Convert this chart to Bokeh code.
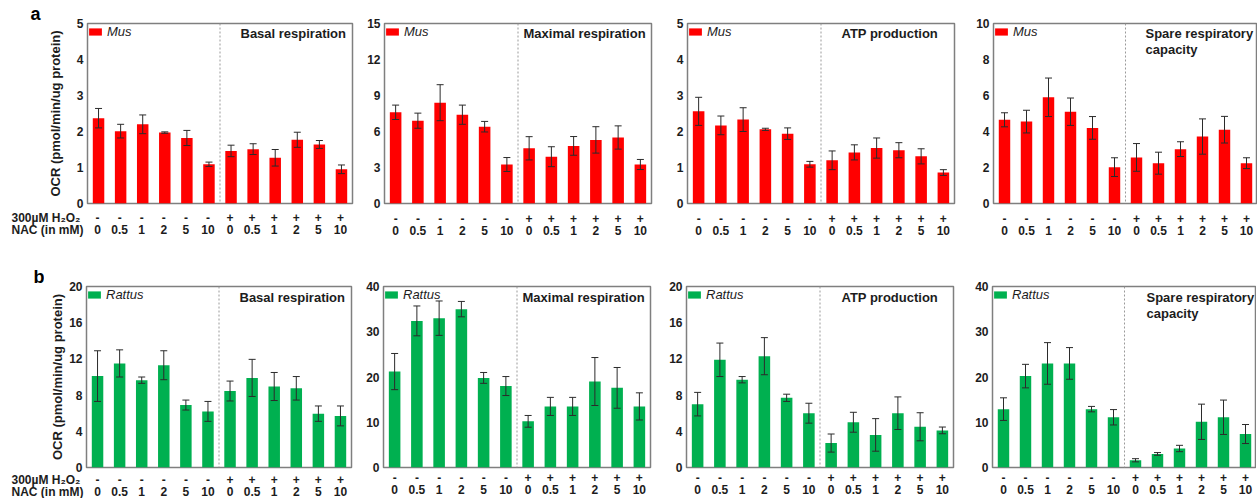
from bokeh.plotting import figure
from bokeh.models import (ColumnDataSource, Range1d, FixedTicker, LinearAxis, Span, Label,
                          Whisker, TeeHead)
from bokeh.layouts import row, column
from bokeh.core.properties import value
from bokeh.embed import file_html
from bokeh.resources import INLINE

# ---------------- data ----------------
nac_labels = ["0", "0.5", "1", "2", "5", "10", "0", "0.5", "1", "2", "5", "10"]
h2o2_labels = ["-", "-", "-", "-", "-", "-", "+", "+", "+", "+", "+", "+"]
row_titles = ["300µM H₂O₂", "NAC (in mM)"]
panel_letters = ["a", "b"]

mus_basal = [2.37, 2.01, 2.20, 1.97, 1.82, 1.09, 1.46, 1.51, 1.27, 1.77, 1.64, 0.95]
mus_basal_err = [0.27, 0.19, 0.26, 0.02, 0.21, 0.06, 0.16, 0.15, 0.23, 0.21, 0.11, 0.12]
mus_max = [7.6, 6.9, 8.4, 7.4, 6.4, 3.25, 4.6, 3.9, 4.8, 5.3, 5.5, 3.25]
mus_max_err = [0.6, 0.63, 1.5, 0.8, 0.44, 0.58, 0.97, 0.83, 0.78, 1.1, 0.97, 0.42]
mus_atp = [2.56, 2.17, 2.33, 2.06, 1.94, 1.09, 1.2, 1.42, 1.54, 1.48, 1.31, 0.86]
mus_atp_err = [0.39, 0.26, 0.33, 0.03, 0.16, 0.08, 0.26, 0.21, 0.28, 0.21, 0.21, 0.08]
mus_spare = [4.65, 4.55, 5.9, 5.1, 4.2, 2.02, 2.56, 2.24, 3.02, 3.72, 4.1, 2.24]
mus_spare_err = [0.39, 0.63, 1.07, 0.76, 0.63, 0.52, 0.77, 0.61, 0.41, 0.98, 0.74, 0.3]

rat_basal = [10.1, 11.5, 9.65, 11.3, 6.9, 6.2, 8.45, 9.9, 8.95, 8.75, 5.95, 5.7]
rat_basal_err = [2.8, 1.5, 0.35, 1.6, 0.55, 1.1, 1.1, 2.05, 1.55, 1.3, 0.85, 1.1]
rat_max = [21.2, 32.4, 33.0, 35.0, 19.8, 18.0, 10.2, 13.5, 13.5, 19.0, 17.6, 13.5]
rat_max_err = [4.0, 3.3, 3.8, 1.7, 1.2, 2.1, 1.3, 2.0, 2.0, 5.3, 4.5, 3.0]
rat_atp = [7.0, 11.9, 9.7, 12.3, 7.7, 6.0, 2.7, 5.0, 3.6, 6.0, 4.5, 4.1]
rat_atp_err = [1.3, 1.85, 0.35, 2.05, 0.4, 1.1, 1.0, 1.1, 1.8, 1.8, 1.55, 0.37]
rat_spare = [12.9, 20.2, 23.0, 23.0, 12.9, 11.1, 1.6, 3.0, 4.2, 10.1, 11.1, 7.4]
rat_spare_err = [2.5, 2.6, 4.6, 3.5, 0.6, 1.7, 0.35, 0.3, 0.7, 3.9, 3.8, 2.1]

titles = [["Basal respiration"], ["Maximal respiration"], ["ATP production"],
          ["Spare respiratory", "capacity"]]
mus_ymax = [5, 15, 5, 10]
mus_ystep = [1, 3, 1, 2]
rat_ymax = [20, 40, 20, 40]
rat_ystep = [4, 10, 4, 10]
y_title = "OCR (pmol/min/ug protein)"

# ---------------- style / layout ----------------
FONT = "Liberation Sans"
TXT = "#1c1c1c"
RED = "#FF0000"
GREEN = "#00B050"
GUTTER = 44                       # width of the left strip holding a / b
FRAME_W = [265, 267, 267, 264]
LEFT = [86 - GUTTER, 28, 32, 35]
RIGHT = [4, 4, 4, 0]
FH = [180, 181]
TOP = [23, 36]
BOTTOM = [47, 31]
BOTTOM_P1 = [7, 7]                # panel 1: its x labels live in a strip below it
TITLE_X = [[153, 139, 154, 152], [153, 139, 155, 154]]
XSTAND = [10, 5]
STRIP_Y = [(7, 19), (5, 17)]      # centre of the two label rows in the strip
LETTER_X = [30, 33]
YLABEL_STANDOFF = [11, 1]


def style_axis(ax):
    ax.axis_line_color = None
    ax.major_tick_line_color = None
    ax.minor_tick_line_color = None
    ax.major_tick_out = 0
    ax.major_tick_in = 0
    ax.major_label_text_font = FONT
    ax.major_label_text_font_size = "12px"
    ax.major_label_text_font_style = "bold"
    ax.major_label_text_color = TXT


def make_panel(vals, errs, color, species, col, r, ymax, ystep):
    first = col == 0
    p = figure(frame_width=FRAME_W[col], frame_height=FH[r],
               x_range=Range1d(-0.5, 11.5), y_range=Range1d(0, ymax),
               x_axis_type=None, y_axis_type=None,
               output_backend="svg", toolbar_location=None,
               min_border_left=LEFT[col], min_border_right=RIGHT[col],
               min_border_top=TOP[r],
               min_border_bottom=BOTTOM_P1[r] if first else BOTTOM[r])
    p.outline_line_color = "#7f7f7f"
    p.outline_line_width = 1.5
    p.background_fill_color = "white"
    p.border_fill_color = "white"

    src = ColumnDataSource(dict(
        x=list(range(len(vals))), top=vals,
        upper=[v + e for v, e in zip(vals, errs)],
        lower=[v - e for v, e in zip(vals, errs)],
    ))
    p.vbar(x="x", top="top", width=0.52, source=src, fill_color=color,
           line_color=None, legend_label=species)

    p.add_layout(Whisker(source=src, base="x", upper="upper", lower="lower",
                         line_color="#2b2b2b", line_width=1,
                         upper_head=TeeHead(size=7, line_color="#2b2b2b", line_width=1),
                         lower_head=TeeHead(size=7, line_color="#2b2b2b", line_width=1),
                         level="overlay"))

    p.add_layout(Span(location=5.5, dimension="height", line_color="#9a9a9a",
                      line_dash="2 2", line_width=1))

    ya = LinearAxis(ticker=FixedTicker(ticks=list(range(0, ymax + 1, ystep))))
    style_axis(ya)
    ya.major_label_standoff = 4
    if first:
        ya.axis_label = y_title
        ya.axis_label_text_font = FONT
        ya.axis_label_text_font_size = "13px"
        ya.axis_label_text_font_style = "bold"
        ya.axis_label_text_color = TXT
        ya.axis_label_standoff = YLABEL_STANDOFF[r]
    p.add_layout(ya, "left")

    if not first:
        for labels, stand in ((h2o2_labels, XSTAND[r]), (nac_labels, 0)):
            xa = LinearAxis(ticker=FixedTicker(ticks=list(range(len(labels)))),
                            major_label_overrides={i: s for i, s in enumerate(labels)})
            style_axis(xa)
            xa.major_label_standoff = stand
            p.add_layout(xa, "below")

    lg = p.legend[0]
    lg.location = "top_left"
    lg.margin = 0
    lg.padding = 3
    lg.glyph_width = 16
    lg.glyph_height = 9
    lg.label_standoff = 4
    lg.label_height = 16
    lg.label_text_font = FONT
    lg.label_text_font_size = "13px"
    lg.label_text_font_style = "italic"
    lg.label_text_color = TXT
    lg.background_fill_alpha = 0
    lg.border_line_color = None

    off = 10 if r == 0 else 11
    for k, line in enumerate(titles[col]):
        p.add_layout(Label(x=TITLE_X[r][col], y=FH[r] - off - 16 * k,
                           x_units="screen", y_units="screen", text=line,
                           text_font=FONT, text_font_size="13px",
                           text_font_style="bold", text_color=TXT,
                           text_align="left", text_baseline="middle"))
    return p


def make_gutter(r, height):
    g = figure(width=GUTTER, height=height, x_range=Range1d(0, 1),
               y_range=Range1d(0, 1), x_axis_type=None, y_axis_type=None,
               min_border=0, output_backend="svg", toolbar_location=None)
    g.outline_line_color = None
    g.title.text = panel_letters[r]
    g.title.align = "left"
    g.title.offset = LETTER_X[r]
    g.title.standoff = 0
    g.title.vertical_align = "bottom"
    g.title.text_font = FONT
    g.title.text_font_size = "18px"
    g.title.text_font_style = "bold"
    g.title.text_color = "black"
    return g


def make_strip(r, width, height):
    u = FRAME_W[0] / 12.0
    frame_left = GUTTER + LEFT[0]
    x0 = -0.5 - frame_left / u
    x1 = 11.5 + (width - frame_left - FRAME_W[0]) / u
    s = figure(width=width, height=height, x_range=Range1d(x0, x1),
               y_range=Range1d(height, 0), x_axis_type=None, y_axis_type=None,
               min_border=0, output_backend="svg", toolbar_location=None)
    s.outline_line_color = None
    yh, yn = STRIP_Y[r]
    src = ColumnDataSource(dict(x=list(range(12)), h=h2o2_labels, n=nac_labels,
                                yh=[yh] * 12, yn=[yn] * 12))
    common = dict(text_font=value(FONT), text_font_size=value("12px"),
                  text_font_style="bold", text_color=TXT, text_baseline="middle")
    s.text(x="x", y="yh", text="h", source=src, text_align="center", **common)
    s.text(x="x", y="yn", text="n", source=src, text_align="center", **common)
    s.text(x=[x0 + 11 / u] * 2, y=[yh, yn], text=row_titles, text_align="left", **common)
    return s


mus_vals = [mus_basal, mus_max, mus_atp, mus_spare]
mus_errs = [mus_basal_err, mus_max_err, mus_atp_err, mus_spare_err]
rat_vals = [rat_basal, rat_max, rat_atp, rat_spare]
rat_errs = [rat_basal_err, rat_max_err, rat_atp_err, rat_spare_err]

rows = []
for r, (vals, errs, color, sp, ymaxs, ysteps) in enumerate([
        (mus_vals, mus_errs, RED, "Mus", mus_ymax, mus_ystep),
        (rat_vals, rat_errs, GREEN, "Rattus", rat_ymax, rat_ystep)]):
    panels = [make_panel(vals[i], errs[i], color, sp, i, r, ymaxs[i], ysteps[i])
              for i in range(4)]
    top_h = TOP[r] + FH[r] + BOTTOM_P1[r]
    total_h = TOP[r] + FH[r] + BOTTOM[r]
    w1 = GUTTER + LEFT[0] + FRAME_W[0] + RIGHT[0]
    col1 = column(row(make_gutter(r, top_h), panels[0], spacing=0),
                  make_strip(r, w1, total_h - top_h), spacing=0)
    rows.append(row(col1, *panels[1:], spacing=0))

layout = column(*rows, spacing=0)

open("out.html", "w").write(file_html(layout, INLINE))
